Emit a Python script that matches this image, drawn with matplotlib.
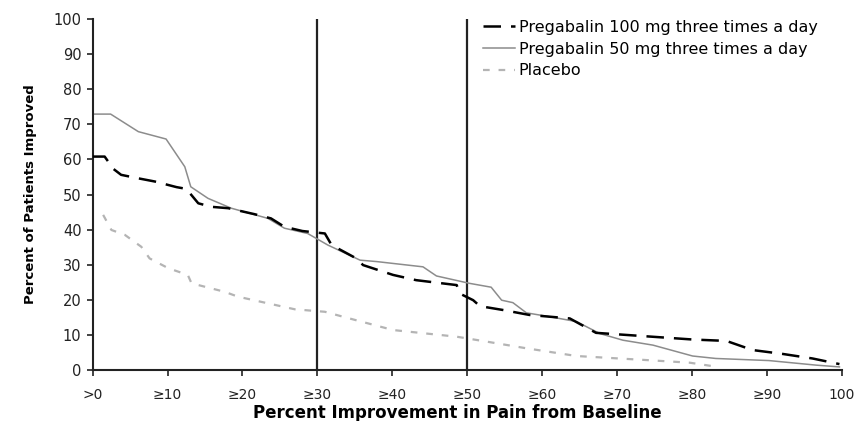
import matplotlib.pyplot as plt

plt.rcParams['font.family'] = ['DejaVu Sans']

# responder curves: percent improvement (x) vs percent of patients (y)
pg100_x = [0, 1.6, 2.1, 2.7, 3.8, 6.1, 8.3, 11.2, 12.5, 14.1, 15.8, 18.1, 21.6, 23.8,
           25.6, 28.0, 31.0, 31.9, 35.2, 36.1, 40.1, 43.2, 48.6, 49.0, 50.8, 51.7,
           54.8, 58.3, 63.7, 67.2, 80.1, 84.6, 88.1, 92.1, 96.1, 99.7]
pg100_y = [60.8, 60.8, 59.3, 57.4, 55.6, 54.6, 53.7, 52.1, 51.6, 47.5, 46.5, 46.1, 44.4,
           43.2, 40.8, 39.6, 38.9, 35.6, 31.8, 29.9, 27.1, 25.6, 24.2, 21.8, 19.9, 18.2,
           17.1, 15.7, 14.7, 10.6, 8.7, 8.3, 5.7, 4.6, 3.3, 1.7]

pg50_x = [0, 2.4, 6.1, 9.8, 12.3, 13.1, 15.4, 18.5, 23.4, 25.6, 28.7, 31.4, 35.7, 37.9,
          44.1, 45.9, 50.3, 53.2, 54.6, 56.1, 57.9, 61.0, 64.6, 67.7, 70.8, 74.8, 80.1,
          83.2, 90.3, 96.6, 99.7]
pg50_y = [72.9, 72.9, 67.9, 65.8, 57.9, 52.2, 48.9, 46.1, 43.2, 40.4, 38.9, 35.6, 31.3,
          30.9, 29.4, 26.8, 24.7, 23.6, 19.9, 19.2, 16.3, 15.2, 13.8, 10.4, 8.5, 7.1, 4.0,
          3.3, 2.7, 1.4, 0.9]

placebo_x = [1.4, 2.5, 4.3, 6.5, 7.6, 10.1, 12.7, 13.2, 17.6, 19.4, 23.4, 27.0, 31.0,
             33.4, 40.1, 48.6, 52.6, 57.9, 64.6, 74.3, 79.7, 82.8]
placebo_y = [44.2, 39.9, 38.5, 35.1, 31.8, 29.0, 27.1, 24.7, 22.3, 20.9, 19.0, 17.3, 16.6,
             15.2, 11.4, 9.5, 8.1, 6.2, 4.0, 2.8, 2.1, 1.1]

x_ticks = [0, 10, 20, 30, 40, 50, 60, 70, 80, 90, 100]
x_labels = ['>0', '≥10', '≥20', '≥30', '≥40', '≥50', '≥60', '≥70', '≥80', '≥90', '100']
y_ticks = list(range(0, 101, 10))
cutoffs = [30, 50]

fig = plt.figure(figsize=(8.58, 4.21), dpi=100)
ax = fig.add_axes([0.108, 0.121, 0.873, 0.834])

for c in cutoffs:
    ax.plot([c, c], [0, 100], color='#222222', lw=1.6, zorder=1)

ax.plot(pg100_x, pg100_y, color='black', lw=1.8, ls=(0, (7, 4)),
        label='Pregabalin 100 mg three times a day', zorder=3)
ax.plot(pg50_x, pg50_y, color='#8c8c8c', lw=1.1,
        label='Pregabalin 50 mg three times a day', zorder=2)
ax.plot(placebo_x, placebo_y, color='#b4b4b4', lw=1.6, ls=(0, (3, 4)),
        label='Placebo', zorder=2)

ax.set_xlim(0, 100)
ax.set_ylim(0, 100)
ax.set_xticks(x_ticks)
ax.set_xticklabels(x_labels, fontsize=10)
ax.set_yticks(y_ticks)
ax.tick_params(axis='y', labelsize=10.5, pad=4)
ax.tick_params(axis='x', pad=9)
ax.tick_params(direction='out', length=4, width=1.2, colors='#222222')
for side in ['top', 'right']:
    ax.spines[side].set_visible(False)
for side in ['left', 'bottom']:
    ax.spines[side].set_linewidth(1.5)
    ax.spines[side].set_color('#222222')

ax.set_xlabel('Percent Improvement in Pain from Baseline', fontsize=12,
              fontweight='bold', va='baseline')
ax.xaxis.set_label_coords(0.487, -0.137)
ax.set_ylabel('Percent of Patients Improved', fontsize=9.5,
              fontweight='bold', labelpad=12)

ax.legend(loc='upper left', bbox_to_anchor=(0.521, 0.997), frameon=False,
          fontsize=11.5, handlelength=2.0, handletextpad=0.25, labelspacing=0.42,
          borderaxespad=0, borderpad=0)

fig.savefig('out.png', dpi=100, facecolor='white')
